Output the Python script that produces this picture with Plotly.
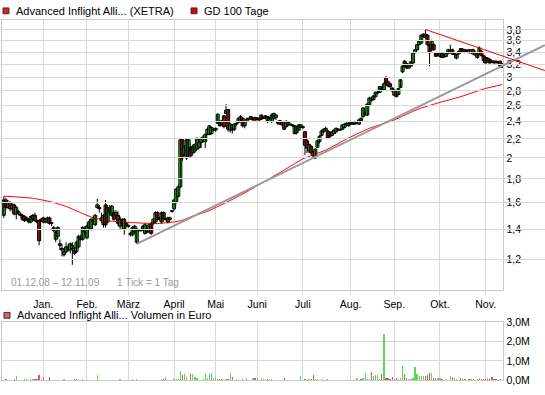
import math
import plotly.graph_objects as go

# ---------------- data ----------------
month_labels = ['Jan.', 'Feb.', 'März', 'April', 'Mai', 'Juni', 'Juli', 'Aug.', 'Sep.', 'Okt.', 'Nov.']
month_start_idx = [19, 40, 60, 82, 102, 122, 144, 167, 188, 210, 232]

price_ticks = [1.2, 1.4, 1.6, 1.8, 2.0, 2.2, 2.4, 2.6, 2.8, 3.0, 3.2, 3.4, 3.6, 3.8]
price_tick_text = ['1,2', '1,4', '1,6', '1,8', '2', '2,2', '2,4', '2,6', '2,8', '3', '3,2', '3,4', '3,6', '3,8']
volume_ticks = [0, 1, 2, 3]
volume_tick_text = ['0,0M', '1,0M', '2,0M', '3,0M']

opens = (
    [1.50,1.62,1.56,1.60,1.55,1.58,1.51,1.53,1.51,1.50,1.49,1.47,1.45,1.45,1.47,1.50,1.46,1.46,1.46]
    + [1.48,1.47,1.45,1.48,1.44,1.41,1.33,1.35,1.30,1.27,1.23,1.25,1.28,1.26,1.27,1.26,1.25,1.28,1.33,1.33,1.38]
    + [1.34,1.41,1.40,1.45,1.43,1.56,1.56,1.48,1.43,1.58,1.45,1.52,1.50,1.52,1.50,1.50,1.42,1.46,1.40,1.44]
    + [1.42,1.37,1.36,1.38,1.31,1.39,1.39,1.40,1.37,1.40,1.38,1.44,1.44,1.45,1.52,1.47,1.45,1.52,1.47,1.45,1.47,1.53]
    + [1.55,1.60,1.65,1.73,2.19,2.04,2.00,2.02,2.11,2.05,2.07,2.09,2.11,2.16,2.18,2.17,2.25,2.25,2.26,2.30]
    + [2.30,2.38,2.39,2.36,2.47,2.50,2.55,2.30,2.36,2.31,2.37,2.39,2.40,2.44,2.35,2.40,2.43,2.46,2.42,2.45]
    + [2.43,2.44,2.48,2.44,2.47,2.41,2.44,2.40,2.44,2.45,2.40,2.41,2.39,2.40,2.34,2.39,2.36,2.35,2.26,2.27,2.30,2.33]
    + [2.33,2.28,2.18,2.07,2.12,2.06,2.00,2.11,2.17,2.24,2.28,2.30,2.29,2.27,2.24,2.26,2.28,2.30,2.30,2.31,2.33,2.38,2.35]
    + [2.39,2.37,2.37,2.38,2.37,2.44,2.46,2.49,2.48,2.61,2.70,2.68,2.72,2.77,2.78,2.84,2.81,2.99,2.93,2.90,2.84]
    + [2.74,2.80,2.75,2.85,3.08,3.25,3.21,3.14,3.17,3.22,3.39,3.44,3.53,3.56,3.68,3.72,3.70,3.53,3.44,3.53,3.39,3.35]
    + [3.33,3.38,3.32,3.33,3.38,3.40,3.44,3.36,3.30,3.37,3.46,3.45,3.44,3.43,3.44,3.39,3.44,3.40,3.38,3.36,3.41,3.34]
    + [3.31,3.25,3.28,3.25,3.25,3.25,3.24,3.25,3.21]
)
highs = (
    [1.65,1.64,1.62,1.61,1.60,1.59,1.57,1.54,1.52,1.51,1.50,1.49,1.48,1.50,1.51,1.52,1.47,1.47,1.48]
    + [1.49,1.48,1.49,1.49,1.45,1.42,1.39,1.42,1.33,1.30,1.27,1.31,1.30,1.31,1.31,1.28,1.32,1.36,1.36,1.42,1.42]
    + [1.43,1.46,1.48,1.49,1.51,1.63,1.58,1.52,1.51,1.62,1.58,1.58,1.58,1.54,1.54,1.53,1.49,1.48,1.48,1.45]
    + [1.43,1.38,1.42,1.43,1.41,1.40,1.40,1.43,1.44,1.41,1.44,1.45,1.48,1.53,1.53,1.49,1.53,1.53,1.48,1.49,1.49,1.54]
    + [1.63,1.72,1.75,2.20,2.20,2.13,2.20,2.20,2.12,2.14,2.15,2.22,2.17,2.22,2.24,2.26,2.33,2.36,2.34,2.32]
    + [2.33,2.50,2.41,2.42,2.48,2.62,2.56,2.38,2.37,2.38,2.39,2.45,2.48,2.45,2.41,2.45,2.44,2.47,2.44,2.46]
    + [2.45,2.46,2.49,2.46,2.48,2.47,2.45,2.50,2.51,2.49,2.41,2.42,2.40,2.41,2.42,2.40,2.37,2.37,2.36,2.35,2.37,2.37]
    + [2.35,2.29,2.20,2.15,2.13,2.07,2.10,2.19,2.24,2.30,2.32,2.34,2.30,2.28,2.29,2.31,2.33,2.32,2.31,2.37,2.38,2.39,2.39]
    + [2.40,2.40,2.41,2.39,2.43,2.45,2.58,2.52,2.63,2.72,2.72,2.74,2.79,2.80,2.87,2.87,2.92,3.02,2.95,2.92,2.85]
    + [2.82,2.81,2.84,2.97,3.18,3.27,3.22,3.20,3.25,3.40,3.45,3.54,3.62,3.72,3.74,3.81,3.72,3.55,3.62,3.55,3.40,3.38]
    + [3.40,3.40,3.36,3.39,3.46,3.53,3.46,3.38,3.37,3.43,3.47,3.47,3.45,3.45,3.45,3.45,3.46,3.41,3.40,3.50,3.43,3.35]
    + [3.33,3.31,3.29,3.26,3.26,3.26,3.25,3.26,3.22]
)
lows = (
    [1.48,1.54,1.55,1.53,1.53,1.50,1.47,1.50,1.49,1.46,1.45,1.46,1.44,1.44,1.46,1.45,1.44,1.29,1.45]
    + [1.44,1.44,1.44,1.43,1.42,1.38,1.31,1.33,1.26,1.22,1.22,1.24,1.25,1.24,1.17,1.23,1.24,1.27,1.32,1.32,1.36]
    + [1.33,1.39,1.39,1.43,1.42,1.55,1.52,1.44,1.41,1.41,1.44,1.50,1.49,1.46,1.48,1.42,1.40,1.40,1.36,1.41]
    + [1.41,1.35,1.35,1.37,1.30,1.38,1.38,1.39,1.36,1.37,1.37,1.36,1.43,1.44,1.46,1.46,1.44,1.46,1.46,1.44,1.46,1.52]
    + [1.54,1.59,1.64,1.72,1.97,2.02,1.98,2.00,2.00,2.04,2.05,2.08,2.09,2.10,2.16,2.10,2.24,2.24,2.25,2.29]
    + [2.28,2.37,2.34,2.35,2.32,2.49,2.28,2.27,2.26,2.29,2.35,2.38,2.39,2.33,2.32,2.39,2.42,2.42,2.41,2.40]
    + [2.41,2.40,2.42,2.43,2.43,2.38,2.42,2.38,2.42,2.42,2.36,2.36,2.35,2.30,2.33,2.35,2.35,2.34,2.25,2.25,2.29,2.32]
    + [2.31,2.03,2.05,2.05,2.03,2.00,1.99,2.10,2.15,2.23,2.27,2.29,2.20,2.21,2.23,2.25,2.27,2.29,2.29,2.30,2.32,2.34,2.34]
    + [2.36,2.36,2.36,2.37,2.36,2.40,2.45,2.47,2.47,2.60,2.65,2.67,2.71,2.75,2.77,2.81,2.80,2.90,2.85,2.84,2.78]
    + [2.73,2.71,2.74,2.84,3.06,3.15,3.12,3.13,3.16,3.21,3.38,3.43,3.52,3.55,3.66,3.64,3.51,3.17,3.42,3.43,3.32,3.33]
    + [3.31,3.30,3.31,3.32,3.37,3.39,3.35,3.30,3.28,3.36,3.38,3.39,3.38,3.40,3.38,3.38,3.36,3.34,3.29,3.35,3.33,3.22]
    + [3.21,3.24,3.21,3.22,3.21,3.21,3.20,3.16,3.14]
)
closes = (
    [1.62,1.56,1.60,1.55,1.58,1.51,1.56,1.52,1.50,1.47,1.46,1.48,1.47,1.49,1.50,1.46,1.45,1.32,1.47]
    + [1.45,1.45,1.48,1.44,1.44,1.39,1.38,1.41,1.29,1.26,1.25,1.28,1.27,1.30,1.29,1.24,1.31,1.35,1.34,1.41,1.40]
    + [1.42,1.45,1.47,1.46,1.50,1.58,1.55,1.46,1.50,1.43,1.56,1.55,1.57,1.47,1.52,1.44,1.47,1.44,1.47,1.43]
    + [1.42,1.36,1.41,1.42,1.40,1.39,1.39,1.42,1.43,1.38,1.43,1.37,1.47,1.52,1.47,1.47,1.52,1.47,1.47,1.48,1.48,1.53]
    + [1.62,1.71,1.73,2.19,2.00,2.11,2.19,2.19,2.02,2.12,2.14,2.20,2.16,2.20,2.22,2.25,2.31,2.35,2.33,2.30]
    + [2.32,2.49,2.35,2.41,2.34,2.54,2.31,2.37,2.30,2.37,2.37,2.44,2.46,2.35,2.40,2.43,2.43,2.43,2.42,2.42]
    + [2.44,2.42,2.43,2.45,2.44,2.46,2.44,2.48,2.50,2.48,2.38,2.37,2.36,2.31,2.40,2.36,2.36,2.36,2.35,2.34,2.36,2.36]
    + [2.34,2.13,2.10,2.14,2.05,2.02,2.09,2.18,2.23,2.29,2.31,2.32,2.21,2.23,2.28,2.30,2.32,2.31,2.30,2.36,2.37,2.36,2.38]
    + [2.37,2.39,2.40,2.38,2.42,2.41,2.57,2.50,2.62,2.70,2.67,2.73,2.78,2.78,2.86,2.82,2.90,2.91,2.87,2.86,2.80]
    + [2.81,2.72,2.83,2.96,3.17,3.17,3.14,3.19,3.24,3.39,3.44,3.53,3.60,3.70,3.72,3.66,3.53,3.39,3.60,3.44,3.33,3.37]
    + [3.39,3.31,3.34,3.38,3.44,3.43,3.37,3.36,3.36,3.41,3.40,3.40,3.40,3.42,3.39,3.44,3.37,3.35,3.31,3.47,3.34,3.26]
    + [3.22,3.30,3.22,3.24,3.22,3.23,3.22,3.17,3.15]
)
volume_m = (
    [0.03,0.05,0,0.02,0,0.05,0.2,0.03,0,0,0.04,0.04,0,0.05,0.06,0.05,0.07,0.28,0.04]
    + [0.15,0,0,0.15,0,0,0,0,0,0,0.05,0,0,0,0,0.04,0.04,0,0,0.04,0]
    + [0,0,0,0,0,0.28,0,0,0,0,0,0,0,0,0,0,0.05,0.02,0,0]
    + [0,0,0.04,0.03,0.05,0,0,0,0,0,0,0,0,0,0,0,0.04,0.05,0.15,0.02,0,0]
    + [0.05,0.05,0.05,0.5,0.25,0.3,0.15,0.02,0.3,0.3,0.15,0.1,0.02,0.02,0.05,0.3,0.1,0.3,0.4,0.1]
    + [0.15,0.05,0.05,0.05,0.03,0.05,0.05,0.38,0.15,0.03,0.05,0.03,0.02,0.05,0.02,0.1,0.03,0.02,0.1,0.1]
    + [0.1,0.03,0.05,0.05,0.02,0.05,0.04,0.05,0.02,0,0.02,0.03,0,0.1,0.02,0,0,0,0,0,0.02,0.2]
    + [0.02,0.05,0.02,0.04,0.05,0.25,0.05,0.05,0.03,0.04,0.03,0.02,0.05,0,0,0,0,0.02,0,0.02,0.03,0,0.02]
    + [0.03,0.02,0.03,0.1,0.03,0.05,0.1,0.35,0.05,0.05,0.45,0.2,0.25,0.25,0.05,0.3,2.4,0.1,0.1,0.05,0.15]
    + [0.05,0.1,0.08,0.1,0.75,0.3,0.1,0.05,0.05,0.1,0.7,0.3,0.2,0.2,0.2,0.2,0.25,0.35,0.4,0.1,0.1,0.1]
    + [0.1,0.05,0.03,0.05,0.03,0.2,0.15,0.1,0.05,0.03,0.1,0.05,0.05,0.03,0.05,0.05,0.05,0.03,0.05,0.1,0.05,0.05]
    + [0.05,0.1,0.05,0.15,0.05,0.05,0.03,0.05,0.02]
)

# GD 100 Tage (100-day moving average)
ma_idx = [0, 14, 22, 30, 38, 43, 51, 62, 74, 82, 86, 91, 98, 107, 117, 123, 133, 144, 155, 166, 176, 188, 199, 209, 220, 232, 240]
ma_val = [1.652, 1.633, 1.607, 1.568, 1.513, 1.482, 1.458, 1.446, 1.439, 1.451, 1.463, 1.494, 1.530, 1.599, 1.687,
          1.751, 1.859, 1.990, 2.08, 2.21, 2.32, 2.42, 2.55, 2.635, 2.72, 2.834, 2.89]

# trend lines (start / end points in data units)
support_idx = [64, 260.5]
support_val = [1.30, 3.52]
resist_idx = [203, 260.5]
resist_val = [3.81, 3.10]

# ---------------- layout geometry ----------------
W, H = 545, 395
day_idx = list(range(len(closes)))

x_dom = [2 / W, 503.3 / W]
x_rng = [-0.87, 240.5]
y_dom = [(H - 293) / H, (H - 14) / H]
y_rng = [math.log10(1.0305), math.log10(4.004)]
v_dom = [(H - 386) / H, (H - 326) / H]

# overlay axis spanning the full figure width (trend lines run past the plot frame)
upp = (x_rng[1] - x_rng[0]) / (x_dom[1] - x_dom[0])
x3_rng = [x_rng[0] - x_dom[0] * upp, x_rng[1] + (1 - x_dom[1]) * upp]

GRID = '#d9d9d9'
FRAME = '#c8c8c8'
FONT = 'Liberation Sans, Arial, sans-serif'
UP, DOWN, FLAT = '#22ee22', '#ee2222', '#ee2222'

# candle wicks (one broken polyline)
wick_x, wick_y = [], []
for i, lo, hi in zip(day_idx, lows, highs):
    wick_x += [i, i, None]
    wick_y += [lo, hi, None]

# candle bodies
body_base, body_len, body_col = [], [], []
for o, c in zip(opens, closes):
    lo_b, hi_b = min(o, c), max(o, c)
    body_base.append(lo_b)
    body_len.append(max(hi_b - lo_b, lo_b * 0.004))
    body_col.append(UP if c > o else (DOWN if c < o else FLAT))

vol_colors = []
for o, c in zip(opens, closes):
    if c > o:
        vol_colors.append('#5ad85a')
    elif c < o:
        vol_colors.append('#dd5a5a')
    else:
        vol_colors.append('#aaaaaa')

fig = go.Figure()

fig.add_trace(go.Scatter(x=ma_idx, y=ma_val, mode='lines',
                         line=dict(color='#ff0000', width=1, shape='spline', smoothing=0.6),
                         xaxis='x', yaxis='y', showlegend=False, hoverinfo='skip'))

fig.add_trace(go.Scatter(x=wick_x, y=wick_y, mode='lines', line=dict(color='black', width=1),
                         connectgaps=False, xaxis='x', yaxis='y', showlegend=False, hoverinfo='skip'))

fig.add_trace(go.Bar(x=day_idx, y=body_len, base=body_base, width=1.45,
                     marker=dict(color=body_col, line=dict(color='black', width=1)),
                     xaxis='x', yaxis='y', showlegend=False, hoverinfo='skip'))

fig.add_trace(go.Scatter(x=support_idx, y=support_val, mode='lines', line=dict(color='#9a9a9a', width=2),
                         xaxis='x3', yaxis='y', showlegend=False, hoverinfo='skip'))
fig.add_trace(go.Scatter(x=resist_idx, y=resist_val, mode='lines', line=dict(color='#ff0000', width=1),
                         xaxis='x3', yaxis='y', showlegend=False, hoverinfo='skip'))

fig.add_trace(go.Bar(x=day_idx, y=volume_m, marker=dict(color=vol_colors, line=dict(width=0)), width=0.6,
                     xaxis='x2', yaxis='y2', showlegend=False, hoverinfo='skip'))

axis_common = dict(showgrid=True, gridcolor=GRID, gridwidth=1, zeroline=False,
                   showline=True, linecolor=FRAME, linewidth=1, mirror=True)

fig.update_layout(
    width=W, height=H,
    margin=dict(l=0, r=0, t=0, b=0),
    paper_bgcolor='white', plot_bgcolor='rgba(0,0,0,0)',
    font=dict(family=FONT, size=10, color='black'),
    showlegend=False,
    bargap=0, barmode='overlay',
    xaxis=dict(domain=x_dom, range=x_rng, anchor='y', tickmode='array', tickvals=month_start_idx,
               ticktext=month_labels, ticks='outside', ticklen=4, tickcolor=GRID,
               tickfont=dict(size=10.5), **axis_common),
    yaxis=dict(domain=y_dom, type='log', range=y_rng, side='right', anchor='x', tickmode='array',
               tickvals=price_ticks, ticktext=price_tick_text, ticks='', tickfont=dict(size=10.5), **axis_common),
    xaxis2=dict(domain=x_dom, range=x_rng, anchor='y2', tickmode='array', tickvals=month_start_idx,
                showticklabels=False, ticks='', **axis_common),
    yaxis2=dict(domain=v_dom, range=[0, 3], side='right', anchor='x2', tickmode='array',
                tickvals=volume_ticks, ticktext=volume_tick_text, ticks='', tickfont=dict(size=10.5), **axis_common),
    xaxis3=dict(domain=[0, 1], range=x3_rng, anchor='y', visible=False, showgrid=False, zeroline=False),
)

def px(x):
    return x / W

def py(y):
    return 1 - y / H

shapes = []
annotations = []

def legend_item(x0, y0, size, color, text):
    shapes.append(dict(type='rect', xref='paper', yref='paper', x0=px(x0), x1=px(x0 + size),
                       y0=py(y0), y1=py(y0 + size), fillcolor=color, line=dict(color='#333333', width=1)))
    annotations.append(dict(xref='paper', yref='paper', x=px(x0 + size + 5), y=py(y0 + size / 2),
                            xanchor='left', yanchor='middle', showarrow=False, text=text,
                            font=dict(size=11, color='black', family=FONT)))

legend_item(3, 2, 6, '#e02020', 'Advanced Inflight Alli... (XETRA)')
legend_item(191, 2, 6, '#e00000', 'GD 100 Tage')
legend_item(4, 316, 6, '#d96868', 'Advanced Inflight Alli... Volumen in Euro')

annotations.append(dict(xref='paper', yref='paper', x=px(9), y=py(285.5), xanchor='left', yanchor='middle',
                        showarrow=False, text='01.12.08 – 12.11.09', font=dict(size=10, color='#9a9a9a')))
annotations.append(dict(xref='paper', yref='paper', x=px(115), y=py(285.5), xanchor='left', yanchor='middle',
                        showarrow=False, text='1 Tick = 1 Tag', font=dict(size=10, color='#9a9a9a')))

fig.update_layout(shapes=shapes, annotations=annotations)

fig.write_html('out.html', include_plotlyjs=True, config={'displayModeBar': False, 'staticPlot': True})
